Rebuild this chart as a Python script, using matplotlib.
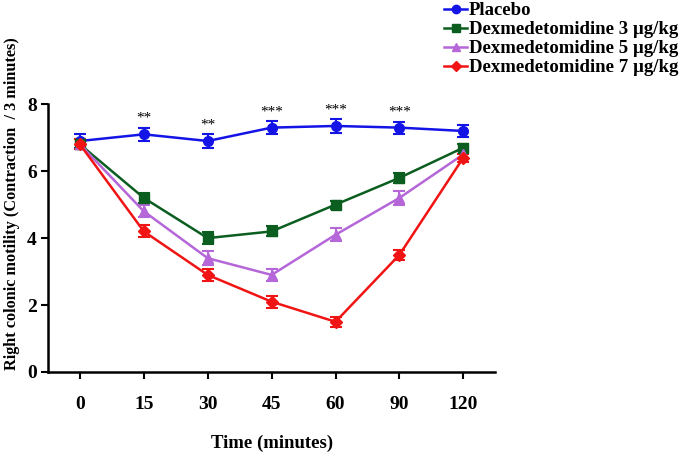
import matplotlib.pyplot as plt
from matplotlib.lines import Line2D

plt.rcParams['font.family'] = ['Liberation Serif', 'DejaVu Serif']
plt.rcParams['font.weight'] = 'bold'

times = ["0", "15", "30", "45", "60", "90", "120"]
placebo = [6.9, 7.1, 6.9, 7.3, 7.35, 7.3, 7.2]
placebo_err = [0.2, 0.2, 0.2, 0.2, 0.2, 0.18, 0.18]
dex3 = [6.8, 5.2, 4.0, 4.2, 5.0, 5.8, 6.7]
dex3_err = [0.15, 0.15, 0.18, 0.15, 0.12, 0.15, 0.1]
dex5 = [6.8, 4.8, 3.4, 2.9, 4.1, 5.2, 6.5]
dex5_err = [0.15, 0.18, 0.2, 0.18, 0.2, 0.2, 0.1]
dex7 = [6.8, 4.2, 2.9, 2.1, 1.5, 3.5, 6.4]
dex7_err = [0.15, 0.18, 0.18, 0.18, 0.15, 0.15, 0.12]
stars = ["", "**", "**", "***", "***", "***", ""]

fig = plt.figure(figsize=(6.85, 4.57), dpi=100)
ax = fig.add_axes([0.070, 0.186, 0.653, 0.586])

x = list(range(len(times)))
series = [
    (placebo, placebo_err, "Placebo", "#1414e6", "o", 7),
    (dex3, dex3_err, "Dexmedetomidine 3 µg/kg", "#0b5e1f", "s", 7),
    (dex5, dex5_err, "Dexmedetomidine 5 µg/kg", "#b566d8", "^", 7),
    (dex7, dex7_err, "Dexmedetomidine 7 µg/kg", "#f01414", "D", 6),
]
handles = []
for vals, err, label, col, mk, ms in series:
    ax.errorbar(x, vals, yerr=err, color=col, marker=mk, markersize=ms,
                linewidth=1.8, elinewidth=1.5, capsize=4, capthick=1.5)
    handles.append(Line2D([], [], color=col, marker=mk, markersize=ms - 1,
                          linewidth=1.8, label=label))

for xi, s, v, e in zip(x, stars, placebo, placebo_err):
    if s:
        ax.text(xi, v + e + 0.08, s, ha='center', va='bottom', fontsize=11,
                fontweight='normal')

ax.set_xlim(-0.5, 6.5)
ax.set_ylim(0, 8)
ax.set_xticks(x)
ax.set_xticklabels(times)
ax.set_yticks([0, 2, 4, 6, 8])
ax.tick_params(labelsize=14, width=1.5, length=5, pad=12, axis='x')
ax.tick_params(labelsize=14, width=1.5, length=5, pad=3, axis='y')
for side in ['top', 'right']:
    ax.spines[side].set_visible(False)
for side in ['left', 'bottom']:
    ax.spines[side].set_linewidth(1.8)

ax.set_xlabel("Time (minutes)", fontsize=13.5, fontweight='bold', labelpad=16)
ax.set_ylabel("Right colonic motility (Contraction  / 3 minutes)", fontsize=11.7,
              fontweight='bold')
ax.yaxis.set_label_coords(-0.062, 0.63)

fig.legend(handles=handles, loc='upper left', bbox_to_anchor=(0.637, 1.012),
           frameon=False, fontsize=13.5, handlelength=1.25, handletextpad=0.1,
           labelspacing=0.1, borderaxespad=0)

fig.savefig("out.png", dpi=100)
